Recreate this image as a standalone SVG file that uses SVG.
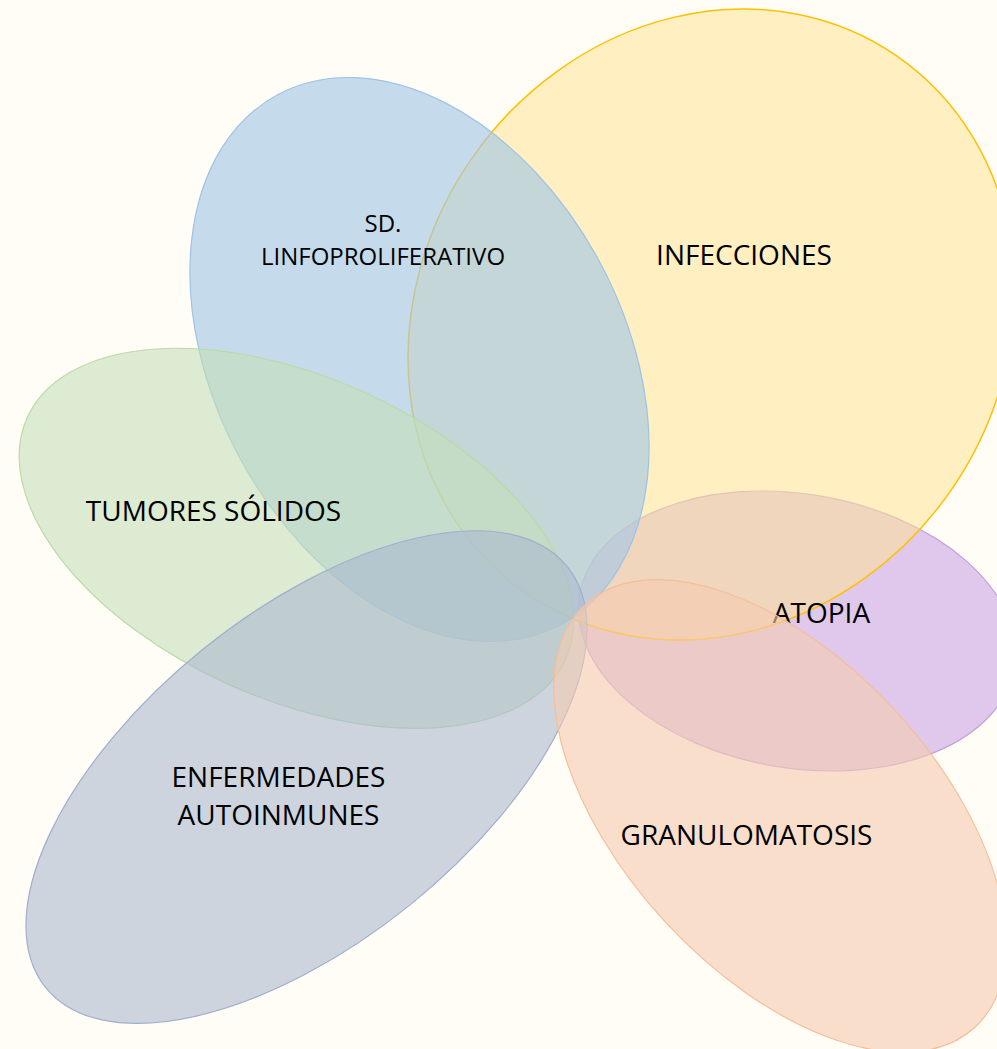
<svg xmlns="http://www.w3.org/2000/svg" width="997" height="1049" viewBox="0 0 997 1049">
  <style>
    .lbl { font-family: "Open Sans", "Liberation Sans", sans-serif; font-size: 28px; fill: #000000; text-anchor: middle; }
    .small { font-size: 24px; }
    .petal { stroke-width: 1.2; }
    .atopia { fill: #CAA5E4; fill-opacity: 0.6; stroke: #C4A0DC; }
    .infecciones { fill: #FFE393; fill-opacity: 0.53; stroke: #FFC000; stroke-width: 1.5; }
    .linfo { fill: #A3C7E7; fill-opacity: 0.63; stroke: #9DC3E6; }
    .tumores { fill: #C3DEB7; fill-opacity: 0.58; stroke: #B9DBA6; }
    .autoinmunes { fill: #ACB9CF; fill-opacity: 0.6; stroke: #9EAFCF; }
    .granulomatosis { fill: #F5CBAF; fill-opacity: 0.6; stroke: #F4BE98; }
  </style>

  <!-- page background -->
  <rect x="0" y="0" width="997" height="1049" fill="#FFFDF5"/>

  <g id="atopia">
    <ellipse class="petal atopia" cx="797" cy="631" rx="220.4" ry="137" transform="rotate(9.56 797 631)"/>
  </g>

  <g id="infecciones">
    <ellipse class="petal infecciones" cx="711.3" cy="324.5" rx="326.4" ry="291.5" transform="rotate(-55.25 711.3 324.5)"/>
    <text class="lbl" x="744" y="265">INFECCIONES</text>
  </g>

  <g id="linfoproliferativo">
    <ellipse class="petal linfo" cx="419.5" cy="359.5" rx="300.4" ry="204.9" transform="rotate(61.9 419.5 359.5)"/>
    <text class="lbl small" x="383" y="232">SD.</text>
    <text class="lbl small" x="383" y="265">LINFOPROLIFERATIVO</text>
  </g>

  <g id="tumores">
    <ellipse class="petal tumores" cx="296.5" cy="538.3" rx="295.1" ry="161.1" transform="rotate(24.05 296.5 538.3)"/>
    <text class="lbl" x="213.5" y="521">TUMORES SÓLIDOS</text>
  </g>

  <g id="autoinmunes">
    <ellipse class="petal autoinmunes" cx="306.5" cy="777.1" rx="335.1" ry="164.5" transform="rotate(-38.9 306.5 777.1)"/>
    <text class="lbl" x="278.5" y="786.5">ENFERMEDADES</text>
    <text class="lbl" x="278.5" y="824.5">AUTOINMUNES</text>
  </g>

  <!-- label of the atopia petal sits above the yellow circle but under the orange one -->
  <g id="atopia-label">
    <text class="lbl" x="821.5" y="623">ATOPIA</text>
  </g>

  <g id="granulomatosis">
    <ellipse class="petal granulomatosis" cx="780" cy="816" rx="287.5" ry="156.2" transform="rotate(47.3 780 816)"/>
    <text class="lbl" x="746.5" y="845">GRANULOMATOSIS</text>
  </g>

  <!-- no connectors in this diagram -->
  <g id="connectors"/>
</svg>
